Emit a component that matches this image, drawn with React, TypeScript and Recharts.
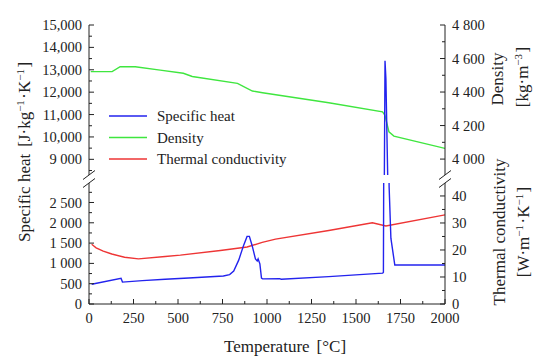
import { Line, LineChart, XAxis, YAxis } from "recharts";

const FONT = '"Liberation Serif", "DejaVu Serif", serif';
const INK = "#222";
const BLUE = "#2323ee";
const GREEN = "#3fe63f";
const RED = "#ee3535";

// [temperature °C, value]
const specificHeat: [number, number][] = [
  [15, 485], [180, 635], [188, 540], [300, 575], [428, 608], [560, 640],
  [755, 690], [790, 725], [813, 810], [841, 1080], [869, 1450], [888, 1665],
  [901, 1665], [917, 1430], [935, 1110], [945, 1060], [950, 1110], [960, 990],
  [969, 640], [975, 620], [1070, 625], [1080, 610], [1347, 673], [1650, 760],
  [1654, 780], [1663, 13400], [1668, 12600], [1678, 8300], [1686, 2900],
  [1696, 1620], [1718, 960], [2000, 960],
];

const density: [number, number][] = [
  [10, 4522], [130, 4522], [175, 4551], [260, 4551], [400, 4531], [530, 4512],
  [580, 4493], [834, 4452], [918, 4406], [975, 4396], [1347, 4336], [1649, 4282],
  [1662, 4263], [1685, 4163], [1713, 4137], [2000, 4064],
];

const thermalConductivity: [number, number][] = [
  [15, 22.1], [40, 20.8], [80, 19.6], [128, 18.5], [200, 17.3], [278, 16.7],
  [428, 17.6], [513, 18.1], [738, 19.8], [888, 21.1], [973, 22.8], [1048, 24.0],
  [1347, 27.2], [1592, 30.1], [1668, 28.9], [2000, 33],
];

const series = [
  { name: "Specific heat", color: BLUE },
  { name: "Density", color: GREEN },
  { name: "Thermal conductivity", color: RED },
];

const tempTicks = [0, 250, 500, 750, 1000, 1250, 1500, 1750, 2000];
const tempLabels = ["0", "250", "500", "750", "1000", "1250", "1500", "1750", "2000"];
const cpTopTicks = [9000, 10000, 11000, 12000, 13000, 14000, 15000];
const cpTopLabels = ["9 000", "10,000", "11,000", "12,000", "13,000", "14,000", "15,000"];
const cpLowTicks = [0, 500, 1000, 1500, 2000, 2500];
const cpLowLabels = ["0", "500", "1 000", "1 500", "2 000", "2 500"];
const rhoTicks = [4000, 4200, 4400, 4600, 4800];
const rhoLabels = ["4 000", "4 200", "4 400", "4 600", "4 800"];
const tcTicks = [0, 10, 20, 30, 40];
const tcLabels = ["0", "10", "20", "30", "40"];

const toPoints = (d: [number, number][]) => d.map(([t, v]) => ({ t, v }));

// major ticks plus halfway minor ticks, kept inside the domain
const withMinor = (majors: number[], lo: number, hi: number) => {
  const step = majors[1] - majors[0];
  const out: number[] = [];
  for (let v = majors[0] - step; v <= majors[majors.length - 1] + step; v += step / 2) {
    if (v >= lo && v <= hi) out.push(v);
  }
  return out;
};

const labelMap = (ticks: number[], labels: string[]) => {
  const m: Record<number, string> = {};
  ticks.forEach((t, i) => (m[t] = labels[i]));
  return m;
};

const TICK_MARGIN = 7;
const textStyle = { fontFamily: FONT, fontSize: 14.5, fill: INK };

function makeTick(side: "left" | "right" | "bottom", labels: Record<number, string>) {
  return (props: any) => {
    const { x, y, payload } = props;
    const label = labels[payload.value];
    const len = label !== undefined ? 5 : 3;
    if (side === "left") {
      const ax = x + TICK_MARGIN;
      return (
        <g>
          <line x1={ax} x2={ax + len} y1={y} y2={y} stroke={INK} />
          {label !== undefined && (
            <text x={x} y={y} dy="0.35em" textAnchor="end" {...textStyle}>{label}</text>
          )}
        </g>
      );
    }
    if (side === "right") {
      const ax = x - TICK_MARGIN;
      return (
        <g>
          <line x1={ax} x2={ax - len} y1={y} y2={y} stroke={INK} />
          {label !== undefined && (
            <text x={x} y={y} dy="0.35em" textAnchor="start" {...textStyle}>{label}</text>
          )}
        </g>
      );
    }
    const ay = y - TICK_MARGIN - 1;
    return (
      <g>
        <line x1={x} x2={x} y1={ay} y2={ay - len} stroke={INK} />
        {label !== undefined && (
          <text x={x} y={y} dy="0.75em" textAnchor="middle" {...textStyle}>{label}</text>
        )}
      </g>
    );
  };
}

const TOP_CP: [number, number] = [8300, 15000];
const TOP_RHO: [number, number] = [3905, 4800];
const LOW_CP: [number, number] = [0, 2980];
const LOW_TC: [number, number] = [0, 44.8];

function BreakMark({ x, y }: { x: number; y: number }) {
  return (
    <g>
      <polygon points={`${x - 6},${y + 0.5} ${x + 6},${y - 8.5} ${x + 6},${y - 0.5} ${x - 6},${y + 8.5}`} fill="#fff" />
      <line x1={x - 6} y1={y + 0.5} x2={x + 6} y2={y - 8.5} stroke={INK} />
      <line x1={x - 6} y1={y + 8.5} x2={x + 6} y2={y - 0.5} stroke={INK} />
    </g>
  );
}

const sup = (s: string) => (
  <>
    <tspan dy={-6} fontSize={11}>{s}</tspan>
    <tspan dy={6}>{"\u200A"}</tspan>
  </>
);

export default function App() {
  const cpData = toPoints(specificHeat);
  const rhoData = toPoints(density);
  const tcData = toPoints(thermalConductivity);
  const lineProps = { dot: false, activeDot: false, isAnimationActive: false, strokeWidth: 1.4 } as const;
  const layer = { position: "absolute" as const, left: 0, top: 0 };
  const xTick = makeTick("bottom", labelMap(tempTicks, tempLabels));

  return (
    <div style={{ position: "absolute", left: 0, top: 0, width: 550, height: 362, background: "#fff" }}>
      <div style={layer}>
        <LineChart width={550} height={200} margin={{ top: 25, right: 0, bottom: 25, left: 0 }}>
          <XAxis dataKey="t" type="number" domain={[0, 2000]} allowDataOverflow orientation="top"
            height={0} tick={false} tickLine={false} axisLine={{ stroke: INK }} />
          <YAxis yAxisId="cp" domain={TOP_CP} allowDataOverflow width={89} ticks={withMinor(cpTopTicks, TOP_CP[0], TOP_CP[1])}
            interval={0} tickSize={0} tickMargin={TICK_MARGIN} tickLine={false} axisLine={{ stroke: INK }}
            tick={makeTick("left", labelMap(cpTopTicks, cpTopLabels))} />
          <YAxis yAxisId="rho" orientation="right" domain={TOP_RHO} allowDataOverflow width={105}
            ticks={withMinor(rhoTicks, TOP_RHO[0] + 50, TOP_RHO[1])} interval={0} tickSize={0} tickMargin={TICK_MARGIN}
            tickLine={false} axisLine={{ stroke: INK }} tick={makeTick("right", labelMap(rhoTicks, rhoLabels))} />
          <Line yAxisId="rho" data={rhoData} dataKey="v" name="Density" stroke={GREEN} {...lineProps} />
          <Line yAxisId="cp" data={cpData} dataKey="v" name="Specific heat" stroke={BLUE} {...lineProps} />
        </LineChart>
      </div>
      <div style={layer}>
        <LineChart width={550} height={362} margin={{ top: 183, right: 0, bottom: 28, left: 0 }}>
          <XAxis dataKey="t" type="number" domain={[0, 2000]} allowDataOverflow height={30}
            ticks={withMinor(tempTicks, 0, 2000)} interval={0} tickSize={0} tickMargin={TICK_MARGIN + 1}
            tickLine={false} axisLine={{ stroke: INK }} tick={xTick} />
          <YAxis yAxisId="cp" domain={LOW_CP} allowDataOverflow width={89} ticks={withMinor(cpLowTicks, LOW_CP[0], LOW_CP[1])}
            interval={0} tickSize={0} tickMargin={TICK_MARGIN} tickLine={false} axisLine={{ stroke: INK }}
            tick={makeTick("left", labelMap(cpLowTicks, cpLowLabels))} />
          <YAxis yAxisId="tc" orientation="right" domain={LOW_TC} allowDataOverflow width={105}
            ticks={withMinor(tcTicks, LOW_TC[0], LOW_TC[1] - 3)} interval={0} tickSize={0} tickMargin={TICK_MARGIN}
            tickLine={false} axisLine={{ stroke: INK }} tick={makeTick("right", labelMap(tcTicks, tcLabels))} />
          <Line yAxisId="tc" data={tcData} dataKey="v" name="Thermal conductivity" stroke={RED} {...lineProps} />
          <Line yAxisId="cp" data={cpData} dataKey="v" name="Specific heat" stroke={BLUE} {...lineProps} />
        </LineChart>
      </div>
      <svg width={550} height={362} style={{ ...layer, pointerEvents: "none" }}>
        <BreakMark x={89} y={179} />
        <BreakMark x={445} y={179} />
        {series.map((s, i) => {
          const y = 116 + i * 21.5;
          return (
            <g key={s.name}>
              <line x1={109} x2={147} y1={y} y2={y} stroke={s.color} strokeWidth={1.4} />
              <text x={157} y={y} dy="0.35em" fontFamily={FONT} fontSize={15} fill={INK}>{s.name}</text>
            </g>
          );
        })}
        <g fontFamily={FONT} fontSize={17} fill={INK}>
          <text x={30} y={152} textAnchor="middle" transform="rotate(-90 30 152)">
            Specific heat<tspan dx={7}>[J·kg</tspan>{sup("−1")}·K{sup("−1")}]
          </text>
          <text x={503} y={79} textAnchor="middle" transform="rotate(-90 503 79)">Density</text>
          <text x={528} y={77} textAnchor="middle" transform="rotate(-90 528 77)">
            [kg·m{sup("−3")}]
          </text>
          <text x={505} y={232} textAnchor="middle" transform="rotate(-90 505 232)">Thermal conductivity</text>
          <text x={529} y={232} textAnchor="middle" transform="rotate(-90 529 232)">
            [W·m{sup("−1")}·K{sup("−1")}]
          </text>
          <text x={285} y={352} textAnchor="middle">
            Temperature<tspan dx={7}>[°C]</tspan>
          </text>
        </g>
      </svg>
    </div>
  );
}
